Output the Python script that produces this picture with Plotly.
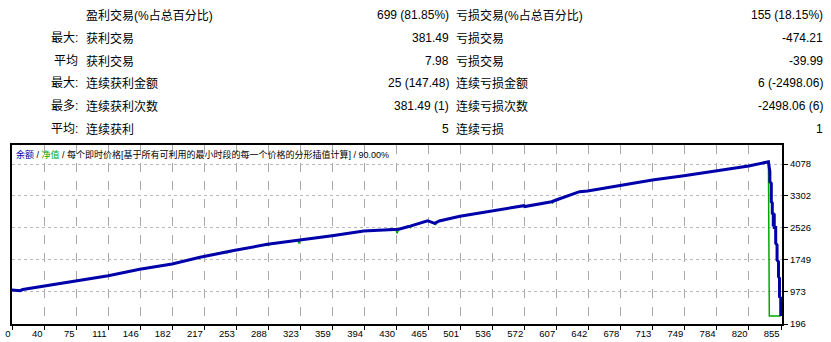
import plotly.graph_objects as go

# ---------------- data ----------------
# balance curve key points (trade index, balance)
balance_trade = [0, 9, 12, 36, 72, 97, 100, 107, 142, 178, 209, 238, 248, 284, 318, 320, 356, 391, 420, 427,
                 430, 441, 462, 470, 475, 498, 534, 569, 570, 600, 605, 631, 640, 668, 676, 712, 747, 783,
                 819, 841, 842.6, 842.6, 844.2, 844.2, 845.3, 845.3, 846.4, 846.4, 847.5, 847.5, 849.1, 849.1,
                 850.6, 850.6, 852.2, 852.2, 853.3, 853.3, 854.7, 854.7]
balance_value = [1021, 1005, 1033, 1118, 1246, 1320, 1345, 1368, 1523, 1652, 1814, 1950, 1984, 2130, 2225, 2234,
                 2338, 2452, 2490, 2501, 2495, 2560, 2702, 2639, 2695, 2809, 2937, 3066, 3045, 3163, 3204, 3406,
                 3423, 3530, 3551, 3689, 3794, 3915, 4029, 4133, 3891, 3648, 3609, 3163, 3131, 2882, 2870, 2560,
                 2880, 2540, 2540, 2154, 2113, 1749, 1707, 1344, 1305, 858, 827, 390]

# equity curve (follows balance; small visible dips and the final collapse)
equity_trade = [0, 9, 12, 36, 72, 97, 100, 107, 142, 178, 209, 238, 239, 240, 248, 284, 285, 286, 318, 319, 320,
                356, 391, 420, 427, 428, 430, 441, 443, 445, 462, 470, 471, 472, 475, 498, 534, 569, 570, 600,
                601, 602, 605, 631, 640, 668, 676, 712, 747, 783, 819, 841, 841.5, 842, 854.7]
equity_value = [1021, 1005, 1033, 1118, 1246, 1320, 1345, 1368, 1523, 1652, 1814, 1950, 1920, 1957, 1984, 2130,
                2090, 2136, 2225, 2150, 2234, 2338, 2452, 2490, 2501, 2395, 2495, 2560, 2530, 2587, 2702, 2639,
                2600, 2661, 2695, 2809, 2937, 3066, 3045, 3163, 3135, 3179, 3204, 3406, 3423, 3530, 3551, 3689,
                3794, 3915, 4029, 4133, 2251, 390, 390]

x_tick_labels = ["0", "40", "75", "111", "146", "182", "217", "253", "288", "323", "359", "394", "430",
                 "465", "501", "536", "572", "607", "642", "678", "713", "749", "784", "820", "855"]
y_tick_values = [196, 973, 1749, 2526, 3302, 4078]
y_tick_labels = ["196", "973", "1749", "2526", "3302", "4078"]

row_prefix = ["", "最大:", "平均", "最大:", "最多:", "平均:"]
left_labels = ["盈利交易(%占总百分比)", "获利交易", "获利交易", "连续获利金额", "连续获利次数", "连续获利"]
left_values = ["699 (81.85%)", "381.49", "7.98", "25 (147.48)", "381.49 (1)", "5"]
right_labels = ["亏损交易(%占总百分比)", "亏损交易", "亏损交易", "连续亏损金额", "连续亏损次数", "连续亏损"]
right_values = ["155 (18.15%)", "-474.21", "-39.99", "6 (-2498.06)", "-2498.06 (6)", "1"]

header_parts = ["余额", "净值", "每个即时价格[基于所有可利用的最小时段的每一个价格的分形插值计算]", "90.00%"]

# ---------------- layout geometry ----------------
W, H = 831, 342
L, R, T, B = 12, 782, 145, 324
PW, PH = R - L, B - T

def xp(px):
    return (px - L) / PW

def yp(py):
    return (B - py) / PH

BLUE = "#0000aa"
GREEN = "#00a800"
GRID_X = "#a8a8a8"
GRID_Y = "#b8b8b8"
FONT = "Liberation Sans, Noto Sans CJK SC, sans-serif"

fig = go.Figure()
fig.add_trace(go.Scatter(x=equity_trade, y=equity_value, mode="lines",
                         line=dict(color=GREEN, width=1.5), hoverinfo="skip"))
fig.add_trace(go.Scatter(x=balance_trade, y=balance_value, mode="lines",
                         line=dict(color=BLUE, width=3), hoverinfo="skip"))

n_ticks = len(x_tick_labels)
x_max = 855
tickvals = [round(i * x_max / (n_ticks - 1), 1) for i in range(n_ticks)]

fig.update_layout(
    width=W, height=H,
    margin=dict(l=L, r=W - R, t=T, b=H - B, pad=0, autoexpand=False),
    paper_bgcolor="white", plot_bgcolor="white",
    showlegend=False,
    font=dict(family=FONT, color="#000000"),
    xaxis=dict(range=[0, 856.1], tickmode="array", tickvals=tickvals, ticktext=x_tick_labels,
               showgrid=True, gridcolor=GRID_X, griddash="dash", gridwidth=1,
               zeroline=False, showline=True, linecolor="#000000", linewidth=2, mirror=True,
               ticks="outside", ticklen=4, tickcolor="#000000",
               ticklabelposition="outside left", automargin=False,
               tickfont=dict(family=FONT, size=9.5, color="#000000")),
    yaxis=dict(range=[196, 4539], tickmode="array", tickvals=y_tick_values, ticktext=y_tick_labels,
               side="right",
               showgrid=True, gridcolor=GRID_Y, griddash="dot", gridwidth=1,
               zeroline=False, showline=True, linecolor="#000000", linewidth=2, mirror=True,
               ticks="outside", ticklen=4, tickcolor="#000000", automargin=False,
               tickfont=dict(family=FONT, size=9.5, color="#000000")),
)

ann = []
row_y = [15, 38, 61, 83, 106, 129]
for i, y in enumerate(row_y):
    common = dict(xref="paper", yref="paper", y=yp(y), yanchor="middle", showarrow=False,
                  borderpad=0, borderwidth=0,
                  font=dict(family=FONT, size=12, color="#000000"))
    if row_prefix[i]:
        ann.append(dict(text=row_prefix[i], x=xp(78), xanchor="right", **common))
    ann.append(dict(text=left_labels[i], x=xp(86), xanchor="left", **common))
    ann.append(dict(text=left_values[i], x=xp(449), xanchor="right", **common))
    ann.append(dict(text=right_labels[i], x=xp(456), xanchor="left", **common))
    ann.append(dict(text=right_values[i], x=xp(823), xanchor="right", **common))

header = (f'<span style="color:{BLUE}">{header_parts[0]}</span> / '
          f'<span style="color:{GREEN}">{header_parts[1]}</span> / '
          f'{header_parts[2]} / {header_parts[3]}')
ann.append(dict(text=header, xref="paper", yref="paper", x=xp(16), y=yp(154),
                xanchor="left", yanchor="middle", showarrow=False, borderpad=0, borderwidth=0,
                font=dict(family=FONT, size=9, color="#000000")))

fig.update_layout(annotations=ann)
fig.write_html("out.html")
